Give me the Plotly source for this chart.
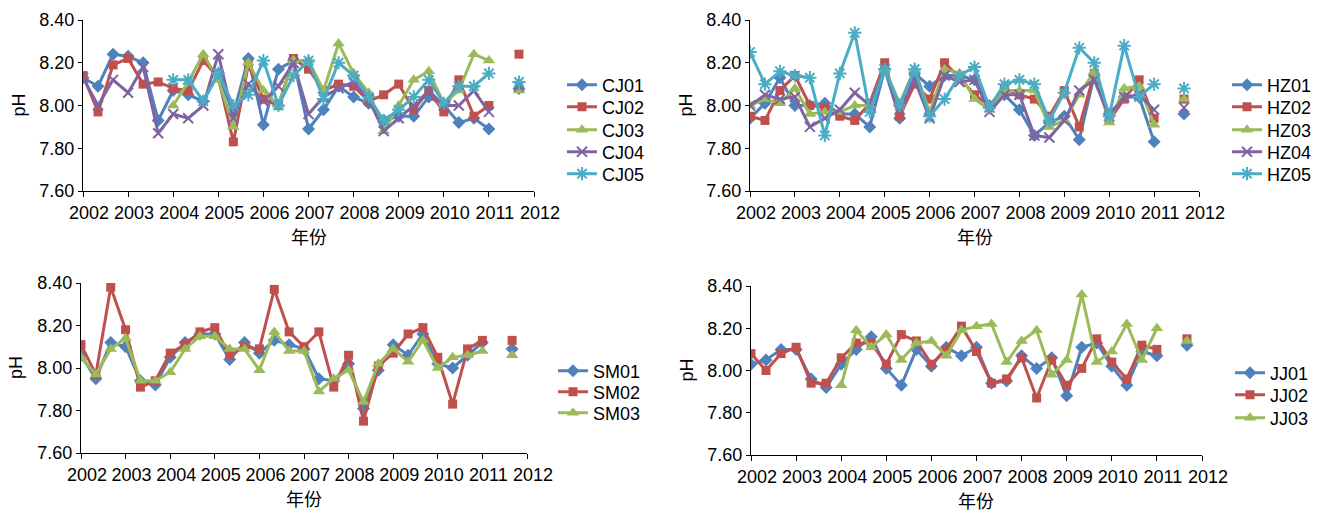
import plotly.graph_objects as go

W, H = 1327, 512

# Sampling events: three per year from 2002 to 2011, plus one late-2011 sample
sample_idx = list(range(30))
year_ticks = [0, 3, 6, 9, 12, 15, 18, 21, 24, 27, 30]
year_labels = ["2002", "2003", "2004", "2005", "2006", "2007",
               "2008", "2009", "2010", "2011", "2012"]
ph_ticks = [7.60, 7.80, 8.00, 8.20, 8.40]
N = None

# --- Changjiang (CJ) stations ---
cj01 = [8.13, 8.09, 8.24, 8.23, 8.20, 7.93, 8.07, 8.05, 8.02, 8.15, 7.96, 8.22, 7.91, 8.17, 8.21,
        7.89, 7.98, 8.09, 8.04, 8.01, 7.93, 7.95, 7.95, 8.04, 8.00, 7.92, 7.94, 7.89, N, 8.08]
cj02 = [8.14, 7.97, 8.19, 8.22, 8.10, 8.11, 8.08, 8.07, 8.21, 8.13, 7.83, 8.19, 8.03, 8.00, 8.22,
        8.17, 8.07, 8.10, 8.09, 8.02, 8.05, 8.10, 7.98, 8.07, 7.97, 8.12, 7.95, 8.00, N, 8.24]
cj03 = [N, N, N, N, N, N, 8.00, 8.11, 8.24, 8.12, 7.90, 8.20, 8.07, 8.00, 8.21,
        8.21, 8.07, 8.29, 8.15, 8.06, 7.88, 8.00, 8.12, 8.16, 8.01, 8.07, 8.24, 8.21, N, 8.07]
cj04 = [8.13, 8.00, 8.12, 8.06, 8.18, 7.87, 7.96, 7.94, 8.00, 8.24, 7.94, 8.10, 8.02, 8.09, 8.20,
        7.96, 8.04, 8.08, 8.11, 8.03, 7.88, 7.94, 8.00, 8.07, 8.00, 8.00, 8.07, 7.97, N, 8.09]
cj05 = [N, N, N, N, N, N, 8.12, 8.12, 8.02, 8.15, 8.00, 8.05, 8.21, 8.00, 8.14,
        8.21, 8.03, 8.20, 8.14, 8.04, 7.93, 7.98, 8.04, 8.12, 8.01, 8.09, 8.09, 8.15, N, 8.11]

# --- Hangzhou (HZ) stations ---
hz01 = [7.94, 8.01, 8.13, 8.00, 8.00, 8.01, 7.96, 7.96, 7.90, 8.17, 7.94, 8.15, 8.09, 8.14, 8.14,
        8.12, 8.00, 8.05, 7.98, 7.86, 7.92, 7.95, 7.84, 8.14, 7.96, 8.04, 8.04, 7.83, N, 7.96]
hz02 = [7.95, 7.93, 8.07, 8.14, 8.00, 7.99, 7.95, 7.93, 8.01, 8.20, 7.95, 8.10, 8.03, 8.20, 8.13,
        8.05, 8.00, 8.08, 8.05, 8.03, 7.95, 8.07, 7.90, 8.15, 7.93, 8.03, 8.12, 7.94, N, 8.03]
hz03 = [8.00, 8.03, 8.01, 8.08, 7.96, 7.97, 7.97, 8.00, 8.00, 8.17, 8.01, 8.17, 7.97, 8.17, 8.15,
        8.03, 7.98, 8.07, 8.07, 8.07, 7.90, 7.93, 8.05, 8.16, 7.92, 8.08, 8.09, 7.91, N, 8.03]
hz04 = [8.00, 8.05, 8.03, 8.04, 7.90, 7.94, 7.98, 8.06, 8.00, 8.17, 7.98, 8.12, 7.94, 8.14, 8.11,
        8.12, 7.97, 8.05, 8.05, 7.86, 7.85, 7.93, 8.07, 8.12, 7.95, 8.04, 8.05, 7.98, N, 7.99]
hz05 = [8.25, 8.10, 8.16, 8.14, 8.13, 7.86, 8.15, 8.34, 7.97, 8.17, 8.00, 8.17, 7.95, 8.03, 8.14,
        8.18, 7.99, 8.10, 8.12, 8.10, 7.93, 8.06, 8.27, 8.20, 7.95, 8.28, 8.04, 8.10, N, 8.08]

# --- Sanmen (SM) stations ---
sm01 = [8.06, 7.95, 8.12, 8.10, 7.94, 7.92, 8.05, 8.12, 8.16, 8.16, 8.04, 8.12, 8.07, 8.13, 8.11,
        8.09, 7.95, 7.94, 8.02, 7.81, 7.99, 8.11, 8.06, 8.16, 8.02, 8.00, 8.06, 8.12, N, 8.09]
sm02 = [8.11, 7.97, 8.38, 8.18, 7.91, 7.94, 8.07, 8.11, 8.17, 8.19, 8.06, 8.10, 8.09, 8.37, 8.17,
        8.10, 8.17, 7.91, 8.06, 7.75, 8.01, 8.07, 8.16, 8.19, 8.05, 7.83, 8.09, 8.13, N, 8.13]
sm03 = [8.05, 7.97, 8.09, 8.14, 7.94, 7.94, 7.98, 8.09, 8.15, 8.15, 8.09, 8.09, 7.99, 8.17, 8.08,
        8.08, 7.89, 7.95, 7.99, 7.84, 8.02, 8.09, 8.03, 8.13, 8.00, 8.05, 8.06, 8.08, N, 8.06]

# --- Jiaojiang (JJ) stations ---
jj01 = [8.03, 8.05, 8.10, 8.10, 7.96, 7.92, 8.03, 8.10, 8.16, 8.01, 7.93, 8.10, 8.02, 8.11, 8.07,
        8.11, 7.94, 7.95, 8.07, 8.01, 8.06, 7.88, 8.11, 8.13, 8.02, 7.93, 8.09, 8.07, N, 8.12]
jj02 = [8.08, 8.00, 8.08, 8.11, 7.94, 7.94, 8.06, 8.13, 8.13, 8.03, 8.17, 8.14, 8.03, 8.10, 8.21,
        8.09, 7.94, 7.96, 8.06, 7.87, 8.05, 7.93, 8.01, 8.15, 8.04, 7.96, 8.12, 8.10, N, 8.15]
jj03 = [N, N, N, N, N, N, 7.93, 8.19, 8.11, 8.17, 8.05, 8.13, 8.14, 8.07, 8.19,
        8.21, 8.22, 8.04, 8.14, 8.19, 7.98, 8.05, 8.36, 8.04, 8.09, 8.22, 8.05, 8.20, N, 8.14]

BLUE, RED, GREEN, PURPLE, CYAN = "#4F81BD", "#C0504D", "#9BBB59", "#8064A2", "#4BACC6"
STYLES = [
    (BLUE, dict(symbol="diamond", size=10)),
    (RED, dict(symbol="square", size=9)),
    (GREEN, dict(symbol="triangle-up", size=11)),
    (PURPLE, dict(symbol="x-thin", size=10, line=dict(width=2, color=PURPLE))),
    (CYAN, dict(symbol="asterisk", size=11, line=dict(width=2, color=CYAN))),
]

FONT = "Liberation Sans, Arial, sans-serif"
CJK = "Noto Sans CJK SC, sans-serif"

# Pixel boxes of the four plot areas (left, right, top, bottom),
# legend left edge and the vertical centre of each legend row
panels = [
    dict(box=(83, 534, 20, 191), names=["CJ01", "CJ02", "CJ03", "CJ04", "CJ05"],
         data=[cj01, cj02, cj03, cj04, cj05], leg_x=562, leg_rows=[85, 107, 130, 152, 174]),
    dict(box=(750, 1199, 20, 191), names=["HZ01", "HZ02", "HZ03", "HZ04", "HZ05"],
         data=[hz01, hz02, hz03, hz04, hz05], leg_x=1227, leg_rows=[85, 107, 130, 152, 174]),
    dict(box=(81, 527, 283, 453), names=["SM01", "SM02", "SM03"],
         data=[sm01, sm02, sm03], leg_x=553, leg_rows=[371, 392, 413]),
    dict(box=(751, 1202, 286, 455), names=["JJ01", "JJ02", "JJ03"],
         data=[jj01, jj02, jj03], leg_x=1230, leg_rows=[373, 395, 418]),
]

fig = go.Figure()
layout = dict(
    width=W, height=H, margin=dict(l=0, r=0, t=0, b=0, autoexpand=False),
    paper_bgcolor="white", plot_bgcolor="white",
    font=dict(family=FONT, size=18, color="black"),
    showlegend=True, annotations=[],
)

leg_count = 0
for k, p in enumerate(panels, start=1):
    left, right, top, bottom = p["box"]
    sx = "" if k == 1 else str(k)
    xname, yname = "x" + sx, "y" + sx

    for name, vals, (color, marker), row_y in zip(p["names"], p["data"], STYLES, p["leg_rows"]):
        leg_count += 1
        legname = "legend" if leg_count == 1 else "legend%d" % leg_count
        fig.add_trace(go.Scatter(
            x=sample_idx, y=vals, name=name, mode="lines+markers",
            line=dict(color=color, width=3),
            marker=dict(color=color, **marker),
            xaxis=xname, yaxis=yname, legend=legname,
        ))
        # one legend box per row so the row spacing is set directly
        layout[legname] = dict(
            x=p["leg_x"] / W, y=1 - row_y / H, xanchor="left", yanchor="middle",
            xref="paper", yref="paper", bgcolor="rgba(0,0,0,0)",
            font=dict(size=18, family=FONT), itemwidth=30,
        )

    layout["xaxis" + sx] = dict(
        domain=[left / W, right / W], anchor=yname, range=[0, 30],
        tickmode="array", tickvals=year_ticks, ticktext=year_labels,
        ticks="outside", ticklen=5, tickcolor="black", ticklabelshift=6,
        showline=True, linecolor="black", linewidth=1,
        showgrid=False, zeroline=False, tickfont=dict(size=18, family=FONT),
    )
    layout["yaxis" + sx] = dict(
        domain=[1 - bottom / H, 1 - top / H], anchor=xname, range=[7.60, 8.40],
        tickmode="array", tickvals=ph_ticks, tickformat=".2f",
        ticks="outside", ticklen=4, tickcolor="black",
        showline=True, linecolor="black", linewidth=1,
        showgrid=False, zeroline=False, tickfont=dict(size=18, family=FONT),
    )
    # axis titles
    layout["annotations"].append(dict(
        text="pH", x=(left - 65) / W, y=1 - ((top + bottom) / 2) / H,
        xref="paper", yref="paper", showarrow=False, textangle=-90,
        font=dict(size=18, family=FONT), xanchor="center", yanchor="middle",
    ))
    layout["annotations"].append(dict(
        text="年份", x=((left + right) / 2) / W, y=1 - (bottom + 45) / H,
        xref="paper", yref="paper", showarrow=False,
        font=dict(size=18, family=CJK), xanchor="center", yanchor="middle",
    ))

fig.update_layout(**layout)
fig.write_html("out.html")
